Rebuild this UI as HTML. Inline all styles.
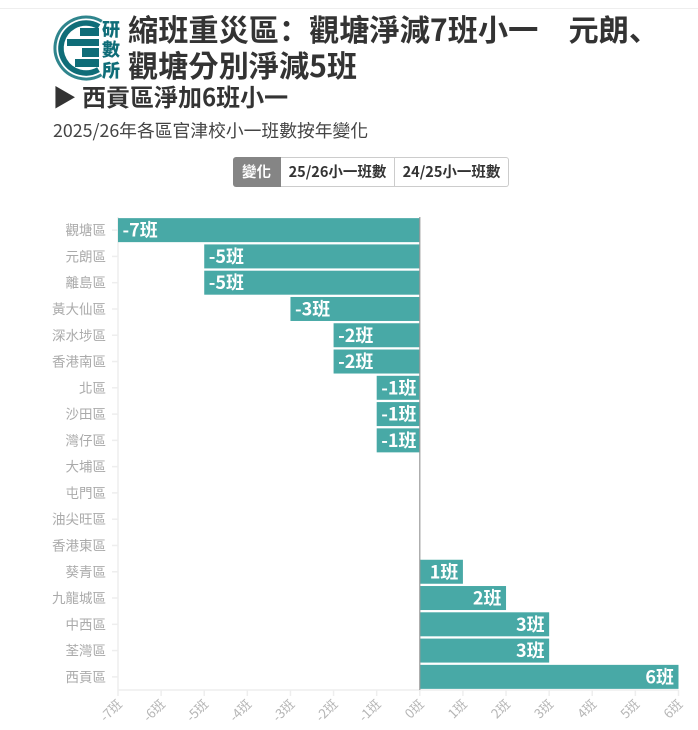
<!DOCTYPE html>
<html lang="zh-Hant">
<head>
<meta charset="utf-8">
<style>
html,body{margin:0;padding:0;background:#fff;}
body{width:698px;height:730px;position:relative;overflow:hidden;font-family:"Noto Sans CJK TC","Liberation Sans",sans-serif;}
#top-rule{position:absolute;left:0;top:8px;width:698px;height:1px;background:#eee;}
.t{position:absolute;white-space:nowrap;color:#333;}
.sc{font-family:"Noto Sans CJK SC",sans-serif;}
#h1{left:128px;top:9.5px;font-size:30.2px;line-height:36px;font-weight:700;}
#h2{left:52.5px;top:79.5px;font-size:24px;line-height:32px;font-weight:700;}
#sub{left:53px;top:117.5px;font-size:17.8px;line-height:24px;color:#444;}
#toggle{position:absolute;left:233px;top:157px;height:30px;display:flex;font-size:14.5px;font-weight:700;line-height:28px;box-sizing:border-box;}
#toggle div{box-sizing:border-box;height:30px;border:1px solid #ccc;border-left:none;padding:0;text-align:center;color:#333;background:#fff;}
#toggle .on{background:#858585;color:#fff;border-color:#858585;border-radius:3px 0 0 3px;width:48px;}
#toggle .last{border-radius:0 3px 3px 0;width:114px;}
#toggle .mid{width:114px;}
svg{position:absolute;left:0;top:0;}
</style>
</head>
<body>
<div id="top-rule"></div>
<svg width="698" height="730" style="z-index:1" font-family="'Noto Sans CJK TC','Liberation Sans',sans-serif">
  <circle cx="86" cy="48" r="31" fill="none" stroke="#2f858d" stroke-width="3" stroke-dasharray="130 65" transform="rotate(60 86 48)"></circle>
  <circle cx="86" cy="48" r="25" fill="none" stroke="#0f6d78" stroke-width="5.5" stroke-dasharray="105 52" transform="rotate(60 86 48)"></circle>
  <rect x="80" y="28" width="19" height="8" fill="#0f6d78"></rect>
  <rect x="67" y="39" width="32" height="7" fill="#0f6d78"></rect>
  <rect x="82" y="48" width="17" height="9" fill="#0f6d78"></rect>
  <rect x="75" y="59" width="24" height="8" fill="#0f6d78"></rect>
  <text x="111" y="36" font-size="18" font-weight="900" fill="#0f6d78" text-anchor="middle">研</text>
  <text x="111" y="56" font-size="18" font-weight="900" fill="#0f6d78" text-anchor="middle">數</text>
  <text x="111" y="77" font-size="18" font-weight="900" fill="#0f6d78" text-anchor="middle">所</text>
</svg>
<div class="t" id="h1">縮班重災區<span class="sc" lang="zh-CN">：</span>觀塘淨減7班小一　元朗<span class="sc" lang="zh-CN">、</span><br>觀塘分別淨減5班</div>
<div class="t" id="h2">▶ 西貢區淨加6班小一</div>
<div class="t" id="sub">2025/26年各區官津校小一班數按年變化</div>
<div id="toggle" style="z-index:2">
  <div class="on">變化</div>
  <div class="mid">25/26小一班數</div>
  <div class="last">24/25小一班數</div>
</div>
<svg id="chart" width="698" height="730" font-family="'Noto Sans CJK TC','Liberation Sans',sans-serif"></svg>
<script>
const districts = ['觀塘區','元朗區','離島區','黃大仙區','深水埗區','香港南區','北區','沙田區','灣仔區','大埔區','屯門區','油尖旺區','香港東區','葵青區','九龍城區','中西區','荃灣區','西貢區'];
const changes = [-7,-5,-5,-3,-2,-2,-1,-1,-1,0,0,0,0,1,2,3,3,6];
const xTicks = [-7,-6,-5,-4,-3,-2,-1,0,1,2,3,4,5,6];
const unit = '班';

const svg = document.getElementById('chart');
const NS = 'http://www.w3.org/2000/svg';
const xMin = -7, xMax = 6, left = 118, right = 678.5, top_ = 217, bottom = 690;
const x = v => left + (v - xMin) / (xMax - xMin) * (right - left);
const band = (bottom - top_) / districts.length;
const y = i => top_ + band * i + band / 2;
function add(tag, attrs, text) {
  const el = document.createElementNS(NS, tag);
  for (const k in attrs) el.setAttribute(k, attrs[k]);
  if (text !== undefined) el.textContent = text;
  svg.appendChild(el);
  return el;
}
const yAxis = add('line', {x1: left, x2: left, y1: top_, y2: bottom, stroke: '#eee', 'stroke-width': 1.5});


const xAxis = add('line', {x1: left, x2: right, y1: bottom, y2: bottom, stroke: '#eee', 'stroke-width': 1.5});



xTicks.forEach(t => {
  const tick = add('line', {x1: x(t), x2: x(t), y1: bottom, y2: bottom + 6, stroke: '#eee', 'stroke-width': 1.5});
  
  
  const label = add('text', {
    x: x(t) + 5, y: bottom + 15, 'font-size': 13, fill: '#b5b5b5', 'text-anchor': 'end',
    transform: `rotate(-45 ${x(t) + 5} ${bottom + 15})`
  }, t + unit);
  
  
});

districts.forEach((d, i) => {
  const tick = add('line', {x1: left - 6, x2: left, y1: y(i), y2: y(i), stroke: '#eee', 'stroke-width': 1.5});
  
  
  const label = add('text', {x: 106, y: y(i) + 5, 'font-size': 13.5, fill: '#aaa', 'text-anchor': 'end'}, d);
  
  
  const v = changes[i];
  if (v === 0) return;
  const x0 = Math.min(x(0), x(v));
  const w = Math.abs(x(v) - x(0));
  const bar = add('rect', {x: x0, y: y(i) - 12, width: w, height: 24, fill: '#48a9a6'});
  
  
  const val = add('text', {
    x: v < 0 ? x(v) + 4.5 : x(v) - 4.5, y: y(i) + 6.5, 'font-size': 18, 'font-weight': 700, fill: '#fff',
    'text-anchor': v < 0 ? 'start' : 'end', stroke: '#48a9a6', 'stroke-width': 4, 'paint-order': 'stroke'
  }, v + unit);
  
  
});
const zero = add('line', {x1: x(0), x2: x(0), y1: top_, y2: bottom, stroke: '#999', 'stroke-width': 1.2});


</script>
</body>
</html>
